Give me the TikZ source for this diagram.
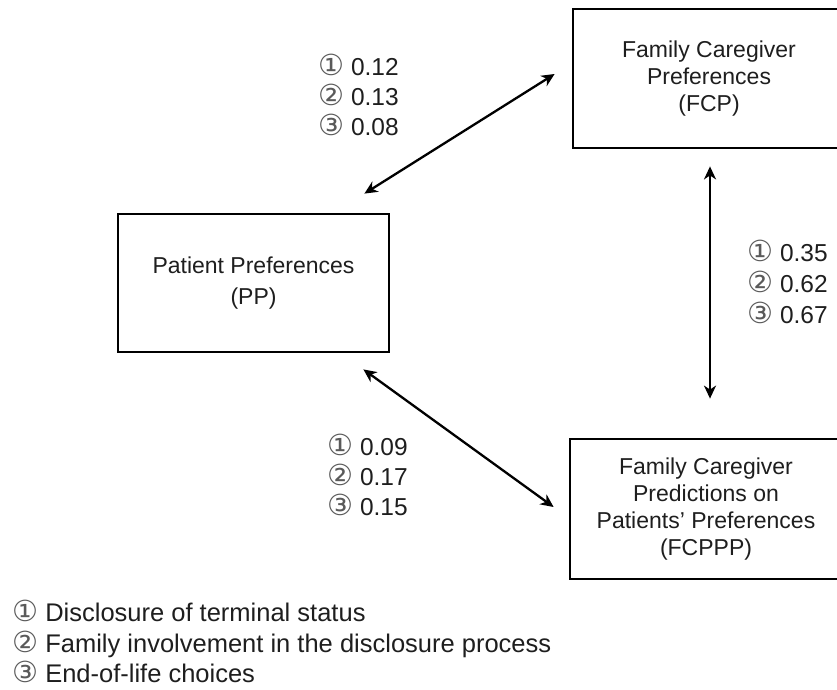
\documentclass[tikz,border=0pt]{standalone}
\usepackage{fontspec}
\setmainfont{Liberation Sans}
\newfontfamily\cfont{DejaVu Sans}
\usetikzlibrary{arrows.meta,calc}
\definecolor{txt}{HTML}{1E1E1E}
\definecolor{cgray}{HTML}{5A5A5A}
\newcommand{\cn}[1]{{\cfont\color{cgray}\fontsize{29}{29}\selectfont #1}}
\begin{document}
\begin{tikzpicture}[x=1pt,y=-1pt,
  box/.style={draw=black, line width=2.8pt, inner sep=0pt, align=center, text=txt, font=\fontsize{23}{27}\selectfont},
  conn/.style={{Stealth[length=13pt,width=12pt,inset=4pt]}-{Stealth[length=13pt,width=12pt,inset=4pt]}, line width=2.3pt},
  lab/.style={anchor=base west, inner sep=0pt, text=txt, font=\fontsize{24.5}{30}\selectfont},
  key/.style={anchor=base west, inner sep=0pt, text=txt, font=\fontsize{25.5}{30}\selectfont}]
\clip (0,0) rectangle (837,689);
\node[box, minimum width=271pt, minimum height=138pt, font=\fontsize{23}{31}\selectfont] (pp) at (253.5,283) {Patient Preferences\\(PP)};
\node[box, minimum width=272pt, minimum height=139pt] (fcp) at (709,78.5) {Family Caregiver\\Preferences\\(FCP)};
\node[box, minimum width=272pt, minimum height=140pt] (fcppp) at (706,509) {Family Caregiver\\Predictions on\\Patients’ Preferences\\(FCPPP)};
\coordinate (a1s) at ($(pp.north east)+(-26,-19)$);
\coordinate (a1e) at ($(fcp.west)+(-17,-4.5)$);
\coordinate (a2s) at ($(fcp.south)+(1,17)$);
\coordinate (a2e) at ($(fcppp.north)+(4,-39)$);
\coordinate (a3s) at ($(pp.south east)+(-27,16)$);
\coordinate (a3e) at ($(fcppp.west)+(-15,-2)$);
\draw[conn] (a1s) -- (a1e);
\draw[conn] (a2s) -- (a2e);
\draw[conn] (a3s) -- (a3e);
\node[lab] (l11) at (318,75) {\cn{①} 0.12};
\node[lab] (l12) at (318,105) {\cn{②} 0.13};
\node[lab] (l13) at (318,135) {\cn{③} 0.08};
\node[lab] (l21) at (747,261) {\cn{①} 0.35};
\node[lab] (l22) at (747,292) {\cn{②} 0.62};
\node[lab] (l23) at (747,323) {\cn{③} 0.67};
\node[lab] (l31) at (327,455) {\cn{①} 0.09};
\node[lab] (l32) at (327,485) {\cn{②} 0.17};
\node[lab] (l33) at (327,515) {\cn{③} 0.15};
\node[key] (k1) at (12,621) {\cn{①} Disclosure of terminal status};
\node[key] (k2) at (12,652) {\cn{②} Family involvement in the disclosure process};
\node[key] (k3) at (12,682) {\cn{③} End-of-life choices};
\end{tikzpicture}
\end{document}
